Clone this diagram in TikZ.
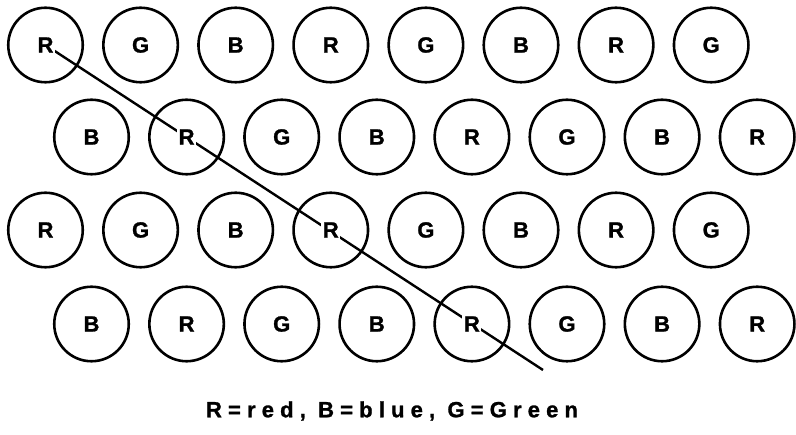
\documentclass[tikz,border=0pt]{standalone}
\usepackage{fontspec}
\setmainfont{Liberation Sans}
\newfontfamily\cellfont{Liberation Sans}[FakeBold=1.2]
\newfontfamily\keyfont{Liberation Sans}[LetterSpace=28, FakeBold=1.2]
\usetikzlibrary{positioning, backgrounds}
\tikzset{
    grid/.style={x=1pt, y=-1pt, node distance=18pt},
    cell/.style={draw, circle, line width=2.6pt, minimum size=74.5pt, inner sep=0pt,
        label={[fill=white, inner sep=1.5pt, font=\cellfont\fontsize{22}{26}\selectfont\bfseries]center:#1}},
    scanline/.style={line width=2.4pt},
}
\begin{document}
\begin{tikzpicture}[grid]
    \useasboundingbox (0,0) rectangle (796,435);
    % row 1
    \node[cell=R]               at (45.5,45) (n11) {};
    \node[cell=G, right=of n11] (n12) {};
    \node[cell=B, right=of n12] (n13) {};
    \node[cell=R, right=of n13] (n14) {};
    \node[cell=G, right=of n14] (n15) {};
    \node[cell=B, right=of n15] (n16) {};
    \node[cell=R, right=of n16] (n17) {};
    \node[cell=G, right=of n17] (n18) {};
    % row 2
    \node[cell=B]               at (91.5,137) (n21) {};
    \node[cell=R, right=of n21] (n22) {};
    \node[cell=G, right=of n22] (n23) {};
    \node[cell=B, right=of n23] (n24) {};
    \node[cell=R, right=of n24] (n25) {};
    \node[cell=G, right=of n25] (n26) {};
    \node[cell=B, right=of n26] (n27) {};
    \node[cell=R, right=of n27] (n28) {};
    % row 3
    \node[cell=R]               at (45.5,230) (n31) {};
    \node[cell=G, right=of n31] (n32) {};
    \node[cell=B, right=of n32] (n33) {};
    \node[cell=R, right=of n33] (n34) {};
    \node[cell=G, right=of n34] (n35) {};
    \node[cell=B, right=of n35] (n36) {};
    \node[cell=R, right=of n36] (n37) {};
    \node[cell=G, right=of n37] (n38) {};
    % row 4
    \node[cell=B]               at (91.5,324) (n41) {};
    \node[cell=R, right=of n41] (n42) {};
    \node[cell=G, right=of n42] (n43) {};
    \node[cell=B, right=of n43] (n44) {};
    \node[cell=R, right=of n44] (n45) {};
    \node[cell=G, right=of n45] (n46) {};
    \node[cell=B, right=of n46] (n47) {};
    \node[cell=R, right=of n47] (n48) {};

    % diagonal through the red ones, under the letters
    \coordinate (tail) at (543,370);
    \begin{scope}[on background layer]
        \draw[scanline] (n11.center) -- (tail);
    \end{scope}

    \node[font=\keyfont\fontsize{22}{26}\selectfont\bfseries] (key) at (392,411) {R=red, B=blue, G=Green};
\end{tikzpicture}
\end{document}
